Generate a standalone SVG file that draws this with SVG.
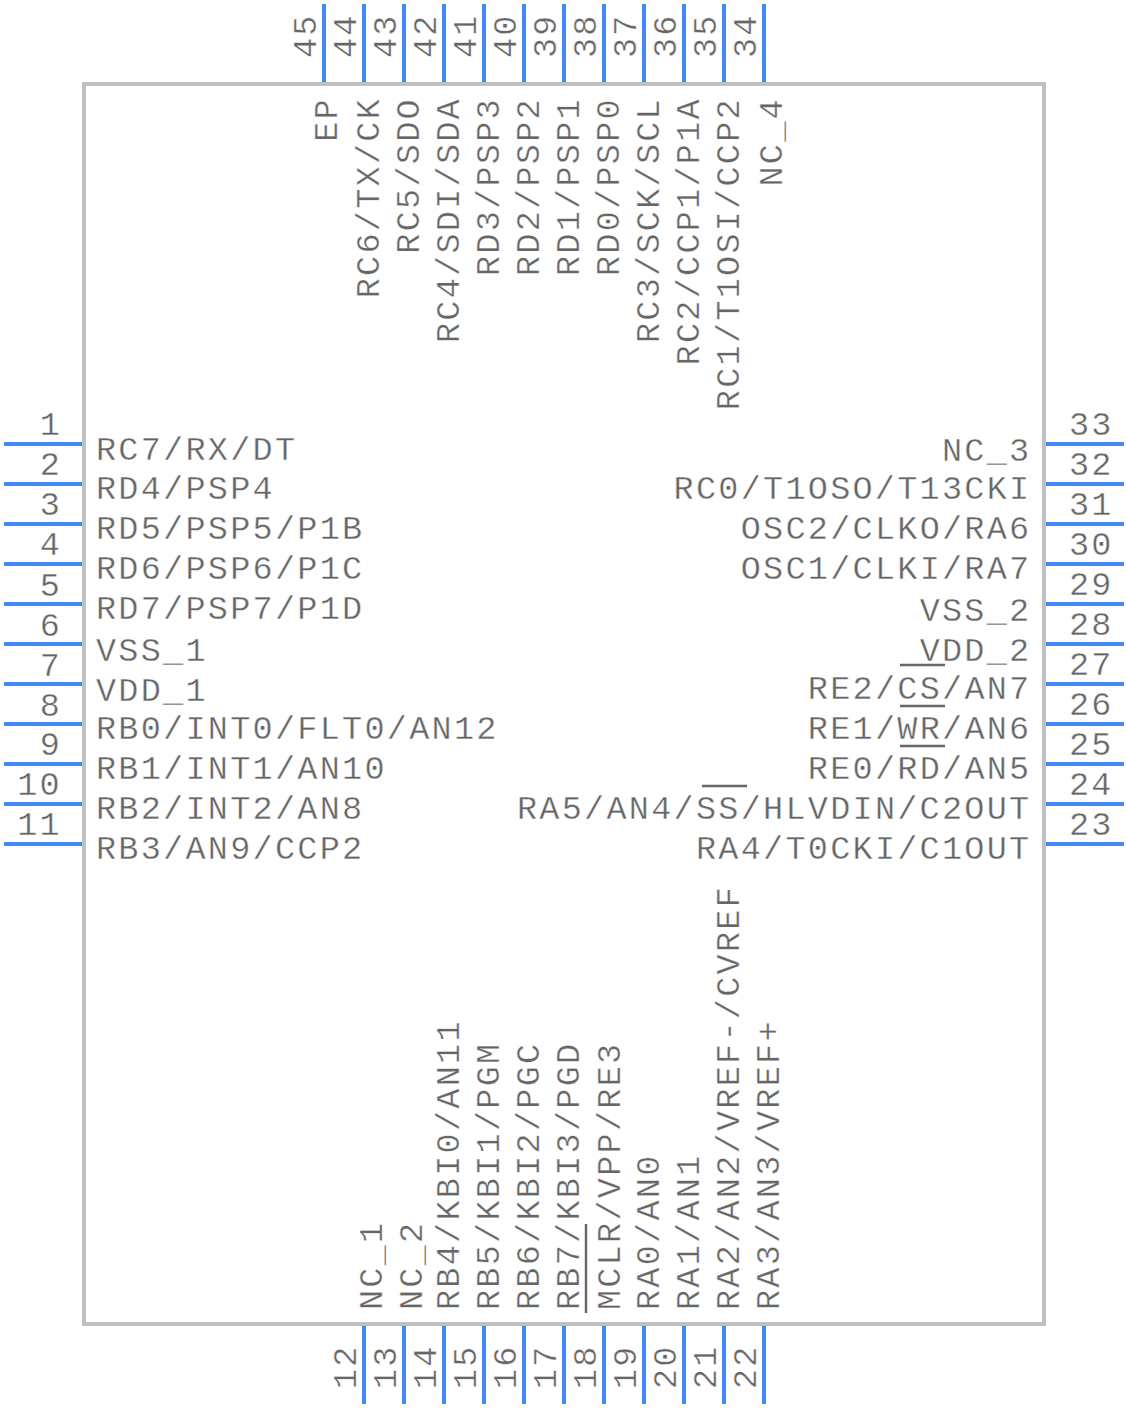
<svg xmlns="http://www.w3.org/2000/svg" width="1128" height="1408" viewBox="0 0 1128 1408">
<style>
text{font-family:"Liberation Mono",monospace;fill:#666666;stroke:#ffffff;stroke-width:.35px;font-size:33.5px;letter-spacing:2.27px;white-space:pre}
.e{text-anchor:end}
.pin{stroke:#4287f5;stroke-width:4;fill:none}
.bar{stroke:#666666;stroke-width:2.4;fill:none}
</style>
<rect width="1128" height="1408" fill="#ffffff"/>
<g id="body"><rect x="84" y="84" width="960" height="1240" fill="none" stroke="#c0c0c0" stroke-width="4"/></g>
<g id="connectors">
<path class="pin" d="M4 444H82M4 484H82M4 524H82M4 564H82M4 604H82M4 644H82M4 684H82M4 724H82M4 764H82M4 804H82M4 844H82"/>
<path class="pin" d="M1046 444H1124M1046 484H1124M1046 524H1124M1046 564H1124M1046 604H1124M1046 644H1124M1046 684H1124M1046 724H1124M1046 764H1124M1046 804H1124M1046 844H1124"/>
<path class="pin" d="M324 4V82M364 4V82M404 4V82M444 4V82M484 4V82M524 4V82M564 4V82M604 4V82M644 4V82M684 4V82M724 4V82M764 4V82"/>
<path class="pin" d="M364 1326V1404M404 1326V1404M444 1326V1404M484 1326V1404M524 1326V1404M564 1326V1404M604 1326V1404M644 1326V1404M684 1326V1404M724 1326V1404M764 1326V1404"/>
</g>
<g id="pin1"><text class="e" x="62" y="435">1</text><text x="96" y="460">RC7/RX/DT</text></g>
<g id="pin2"><text class="e" x="62" y="475">2</text><text x="96" y="499">RD4/PSP4</text></g>
<g id="pin3"><text class="e" x="62" y="515">3</text><text x="96" y="539">RD5/PSP5/P1B</text></g>
<g id="pin4"><text class="e" x="62" y="555">4</text><text x="96" y="579">RD6/PSP6/P1C</text></g>
<g id="pin5"><text class="e" x="62" y="596">5</text><text x="96" y="619">RD7/PSP7/P1D</text></g>
<g id="pin6"><text class="e" x="62" y="636">6</text><text x="96" y="661">VSS_1</text></g>
<g id="pin7"><text class="e" x="62" y="676">7</text><text x="96" y="701">VDD_1</text></g>
<g id="pin8"><text class="e" x="62" y="716">8</text><text x="96" y="739">RB0/INT0/FLT0/AN12</text></g>
<g id="pin9"><text class="e" x="62" y="755">9</text><text x="96" y="779">RB1/INT1/AN10</text></g>
<g id="pin10"><text class="e" x="62" y="795">10</text><text x="96" y="819">RB2/INT2/AN8</text></g>
<g id="pin11"><text class="e" x="62" y="835">11</text><text x="96" y="859">RB3/AN9/CCP2</text></g>
<g id="pin12"><text transform="translate(356 1389) rotate(-90)">12</text><text transform="translate(382 1310) rotate(-90)">NC_1</text></g>
<g id="pin13"><text transform="translate(396 1389) rotate(-90)">13</text><text transform="translate(422 1310) rotate(-90)">NC_2</text></g>
<g id="pin14"><text transform="translate(436 1389) rotate(-90)">14</text><text transform="translate(459 1310) rotate(-90)">RB4/KBI0/AN11</text></g>
<g id="pin15"><text transform="translate(476 1389) rotate(-90)">15</text><text transform="translate(499 1310) rotate(-90)">RB5/KBI1/PGM</text></g>
<g id="pin16"><text transform="translate(516 1389) rotate(-90)">16</text><text transform="translate(539 1310) rotate(-90)">RB6/KBI2/PGC</text></g>
<g id="pin17"><text transform="translate(556 1389) rotate(-90)">17</text><text transform="translate(579 1310) rotate(-90)">RB7/KBI3/PGD</text></g>
<g id="pin18"><text transform="translate(596 1389) rotate(-90)">18</text><text transform="translate(620 1310) rotate(-90)">MCLR/VPP/RE3</text><path class="bar" d="M586 1313V1224"/></g>
<g id="pin19"><text transform="translate(636 1389) rotate(-90)">19</text><text transform="translate(659 1310) rotate(-90)">RA0/AN0</text></g>
<g id="pin20"><text transform="translate(676 1389) rotate(-90)">20</text><text transform="translate(699 1310) rotate(-90)">RA1/AN1</text></g>
<g id="pin21"><text transform="translate(716 1389) rotate(-90)">21</text><text transform="translate(739 1310) rotate(-90)">RA2/AN2/VREF-/CVREF</text></g>
<g id="pin22"><text transform="translate(756 1389) rotate(-90)">22</text><text transform="translate(779 1310) rotate(-90)">RA3/AN3/VREF+</text></g>
<g id="pin23"><text x="1069" y="835">23</text><text class="e" x="1031.5" y="859">RA4/T0CKI/C1OUT</text></g>
<g id="pin24"><text x="1069" y="795">24</text><text class="e" x="1031.5" y="819">RA5/AN4/SS/HLVDIN/C2OUT</text><path class="bar" d="M702 786H747"/></g>
<g id="pin25"><text x="1069" y="755">25</text><text class="e" x="1031.5" y="779">RE0/RD/AN5</text><path class="bar" d="M900 746H945"/></g>
<g id="pin26"><text x="1069" y="715">26</text><text class="e" x="1031.5" y="739">RE1/WR/AN6</text><path class="bar" d="M900 706H945"/></g>
<g id="pin27"><text x="1069" y="675">27</text><text class="e" x="1031.5" y="699">RE2/CS/AN7</text><path class="bar" d="M900 665H945"/></g>
<g id="pin28"><text x="1069" y="635">28</text><text class="e" x="1031.5" y="661">VDD_2</text></g>
<g id="pin29"><text x="1069" y="595">29</text><text class="e" x="1031.5" y="621">VSS_2</text></g>
<g id="pin30"><text x="1069" y="555">30</text><text class="e" x="1031.5" y="579">OSC1/CLKI/RA7</text></g>
<g id="pin31"><text x="1069" y="515">31</text><text class="e" x="1031.5" y="539">OSC2/CLKO/RA6</text></g>
<g id="pin32"><text x="1069" y="475">32</text><text class="e" x="1031.5" y="499">RC0/T1OSO/T13CKI</text></g>
<g id="pin33"><text x="1069" y="435">33</text><text class="e" x="1031.5" y="461">NC_3</text></g>
<g id="pin34"><text transform="translate(756 58) rotate(-90)">34</text><text class="e" transform="translate(782 97) rotate(-90)">NC_4</text></g>
<g id="pin35"><text transform="translate(716 58) rotate(-90)">35</text><text class="e" transform="translate(739 97) rotate(-90)">RC1/T1OSI/CCP2</text></g>
<g id="pin36"><text transform="translate(676 58) rotate(-90)">36</text><text class="e" transform="translate(699 97) rotate(-90)">RC2/CCP1/P1A</text></g>
<g id="pin37"><text transform="translate(636 58) rotate(-90)">37</text><text class="e" transform="translate(659 97) rotate(-90)">RC3/SCK/SCL</text></g>
<g id="pin38"><text transform="translate(596 58) rotate(-90)">38</text><text class="e" transform="translate(619 97) rotate(-90)">RD0/PSP0</text></g>
<g id="pin39"><text transform="translate(556 58) rotate(-90)">39</text><text class="e" transform="translate(579 97) rotate(-90)">RD1/PSP1</text></g>
<g id="pin40"><text transform="translate(516 58) rotate(-90)">40</text><text class="e" transform="translate(539 97) rotate(-90)">RD2/PSP2</text></g>
<g id="pin41"><text transform="translate(476 58) rotate(-90)">41</text><text class="e" transform="translate(499 97) rotate(-90)">RD3/PSP3</text></g>
<g id="pin42"><text transform="translate(436 58) rotate(-90)">42</text><text class="e" transform="translate(459 97) rotate(-90)">RC4/SDI/SDA</text></g>
<g id="pin43"><text transform="translate(396 58) rotate(-90)">43</text><text class="e" transform="translate(419 97) rotate(-90)">RC5/SDO</text></g>
<g id="pin44"><text transform="translate(356 58) rotate(-90)">44</text><text class="e" transform="translate(379 97) rotate(-90)">RC6/TX/CK</text></g>
<g id="pin45"><text transform="translate(316 58) rotate(-90)">45</text><text class="e" transform="translate(337 97) rotate(-90)">EP</text></g>
</svg>
